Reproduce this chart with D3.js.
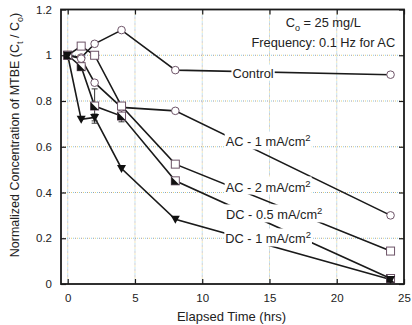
<!DOCTYPE html>
<html><head><meta charset="utf-8">
<script src="https://cdn.jsdelivr.net/npm/d3@7"></script>
<style>
html,body{margin:0;padding:0;background:#fff;}
svg{display:block;font-family:"Liberation Sans",Arial,Helvetica,sans-serif;}
</style></head>
<body><svg id="c" width="412" height="325"></svg>
<script>
const times = [0, 1, 2, 4, 8, 24];
const control = [1.0, 0.99, 1.05, 1.11, 0.935, 0.915];
const ac1 = [1.0, 0.985, 0.88, 0.772, 0.757, 0.30];
const ac2 = [1.0, 1.04, 1.0, 0.778, 0.524, 0.144];
const dc05 = [1.0, 0.95, 0.778, 0.734, 0.451, 0.024];
const dc1 = [1.0, 0.72, 0.728, 0.505, 0.283, 0.02];
const dc05Err = [0, 0, 0.075, 0.025, 0, 0];
const dc1Err = [0, 0, 0.015, 0, 0, 0];
const xTicks = [0, 5, 10, 15, 20, 25];
const yTicks = [0, 0.2, 0.4, 0.6, 0.8, 1, 1.2];
const seriesNames = ["Control", "AC - 1 mA/cm", "AC - 2 mA/cm", "DC - 0.5 mA/cm", "DC - 1 mA/cm"];
const seriesSup = ["", "2", "2", "2", "2"];
const labelX = [13.78, 14.9, 14.9, 15.35, 14.9];
const labelY = [0.922, 0.621, 0.424, 0.302, 0.197];

const svg = d3.select("#c");
const x = d3.scaleLinear().domain([-0.5, 25]).range([61, 404]);
const y = d3.scaleLinear().domain([0, 1.2]).range([284, 9.5]);

// grid
const g = svg.append("g");
const gx = [0, 5, 10, 15, 20];
const gy = [0.2, 0.4, 0.6, 0.8, 1.0];
function gridLine(x1, y1, x2, y2) {
  g.append("line").attr("x1", x1).attr("y1", y1).attr("x2", x2).attr("y2", y2)
    .attr("stroke", "#8ccbe0").attr("stroke-width", 1).attr("stroke-dasharray", "1,5");
  g.append("line").attr("x1", x1).attr("y1", y1).attr("x2", x2).attr("y2", y2)
    .attr("stroke", "#e3cf7a").attr("stroke-width", 1).attr("stroke-dasharray", "1,5").attr("stroke-dashoffset", 2);
  g.append("line").attr("x1", x1).attr("y1", y1).attr("x2", x2).attr("y2", y2)
    .attr("stroke", "#9a9aa8").attr("stroke-width", 1).attr("stroke-dasharray", "1,5").attr("stroke-dashoffset", 4);
}
gx.forEach(v => gridLine(x(v), y(1.2), x(v), y(0)));
gy.forEach(v => gridLine(x(-0.5), y(v), x(25), y(v)));

// series
const all = [control, ac1, ac2, dc05, dc1];
const line = d3.line().x((d, i) => x(times[i])).y(d => y(d));
const lg = svg.append("g");
all.forEach(s => {
  lg.append("path").attr("d", line(s)).attr("fill", "none").attr("stroke", "#1a1a1a").attr("stroke-width", 1.6);
});

// labels with white boxes
const lab = svg.append("g");
seriesNames.forEach((name, i) => {
  const t = lab.append("text").attr("x", x(labelX[i])).attr("y", y(labelY[i]) + 4.5)
    .attr("text-anchor", "middle").attr("font-size", 12.8).attr("fill", "#222");
  t.append("tspan").text(name);
  if (seriesSup[i]) t.append("tspan").attr("dy", -5).attr("font-size", 9.5).text(seriesSup[i]);
  const bb = t.node().getBBox();
  lab.insert("rect", "text").attr("x", bb.x - 1).attr("y", bb.y - 1).attr("width", bb.width + 2).attr("height", bb.height + 1)
    .attr("fill", "#fff");
});
lab.selectAll("rect").lower();

// annotation
const an = svg.append("g").attr("font-size", 12.8).attr("fill", "#222").attr("text-anchor", "middle");
const t1 = an.append("text").attr("x", x(19.0)).attr("y", y(1.145) + 4.5);
t1.append("tspan").text("C");
t1.append("tspan").attr("dy", 4).attr("font-size", 9).text("o");
t1.append("tspan").attr("dy", -4).text(" = 25 mg/L");
an.append("text").attr("x", x(19.0)).attr("y", y(1.054) + 4.5).text("Frequency: 0.1 Hz for AC");

// error bars
const eg = svg.append("g").attr("stroke", "#333").attr("stroke-width", 1);
[[dc05, dc05Err], [dc1, dc1Err]].forEach(([s, e]) => {
  s.forEach((v, i) => {
    if (!e[i]) return;
    const cx = x(times[i]);
    eg.append("line").attr("x1", cx).attr("x2", cx).attr("y1", y(v - e[i])).attr("y2", y(v + e[i]));
    [v - e[i], v + e[i]].forEach(w => eg.append("line").attr("x1", cx - 3).attr("x2", cx + 3).attr("y1", y(w)).attr("y2", y(w)));
  });
});

// markers
const mg = svg.append("g");
const mStroke = "#6e5468";
[control, ac1].forEach(s => {
  s.forEach((v, i) => mg.append("circle").attr("cx", x(times[i])).attr("cy", y(v)).attr("r", 3.8)
    .attr("fill", i === 0 ? "none" : "#fff").attr("stroke", mStroke).attr("stroke-width", 1));
});
ac2.forEach((v, i) => mg.append("rect").attr("x", x(times[i]) - 4).attr("y", y(v) - 4).attr("width", 8).attr("height", 8)
  .attr("fill", i === 0 ? "none" : "#fff").attr("stroke", mStroke).attr("stroke-width", 1));
dc05.forEach((v, i) => {
  const cx = x(times[i]), cy = y(v);
  mg.append("rect").attr("x", cx - 4).attr("y", cy - 4).attr("width", 8).attr("height", 8)
    .attr("fill", "#fff").attr("stroke", mStroke).attr("stroke-width", 1);
  mg.append("path").attr("d", `M${cx - 4},${cy - 4}L${cx - 4},${cy + 4}L${cx + 4},${cy + 4}Z`).attr("fill", "#111");
});
dc1.forEach((v, i) => {
  const cx = x(times[i]), cy = y(v);
  mg.append("path").attr("d", `M${cx - 4.5},${cy - 3.5}L${cx + 4.5},${cy - 3.5}L${cx},${cy + 4.5}Z`).attr("fill", "#111");
});

// frame
svg.append("rect").attr("x", x(-0.5)).attr("y", y(1.2)).attr("width", x(25) - x(-0.5)).attr("height", y(0) - y(1.2))
  .attr("fill", "none").attr("stroke", "#1a1a1a").attr("stroke-width", 1.8);

// axes with inward ticks
const axB = d3.axisBottom(x).tickValues(xTicks).tickSize(-5).tickPadding(10).tickFormat(d3.format("d"));
const axT = d3.axisTop(x).tickValues(xTicks).tickSize(-5).tickFormat("");
const axL = d3.axisLeft(y).tickValues(yTicks).tickSize(-5).tickPadding(9).tickFormat(d => d3.format("")(d));
const axR = d3.axisRight(y).tickValues(yTicks).tickSize(-5).tickFormat("");
function style(sel) {
  sel.select(".domain").remove();
  sel.selectAll(".tick line").attr("stroke", "#1a1a1a").attr("stroke-width", 1.2);
  sel.selectAll(".tick text").attr("font-size", 11.5).attr("fill", "#222").attr("font-family", "Liberation Sans, Arial, sans-serif");
}
svg.append("g").attr("transform", `translate(0,${y(0)})`).call(axB).call(style);
svg.append("g").attr("transform", `translate(0,${y(1.2)})`).call(axT).call(style);
svg.append("g").attr("transform", `translate(${x(-0.5)},0)`).call(axL).call(style);
svg.append("g").attr("transform", `translate(${x(25)},0)`).call(axR).call(style);

// axis titles
svg.append("text").attr("x", (x(-0.5) + x(25)) / 2 - 1).attr("y", 321).attr("text-anchor", "middle")
  .attr("font-size", 13).attr("fill", "#222").text("Elapsed Time (hrs)");
const yt = svg.append("text").attr("transform", "translate(19,135) rotate(-90)").attr("text-anchor", "middle")
  .attr("font-size", 12.5).attr("fill", "#222");
yt.append("tspan").text("Normalized Concentration of MTBE (C");
yt.append("tspan").attr("dy", 4).attr("font-size", 9).text("t");
yt.append("tspan").attr("dy", -4).text(" / C");
yt.append("tspan").attr("dy", 4).attr("font-size", 9).text("o");
yt.append("tspan").attr("dy", -4).text(")");
</script></body></html>
